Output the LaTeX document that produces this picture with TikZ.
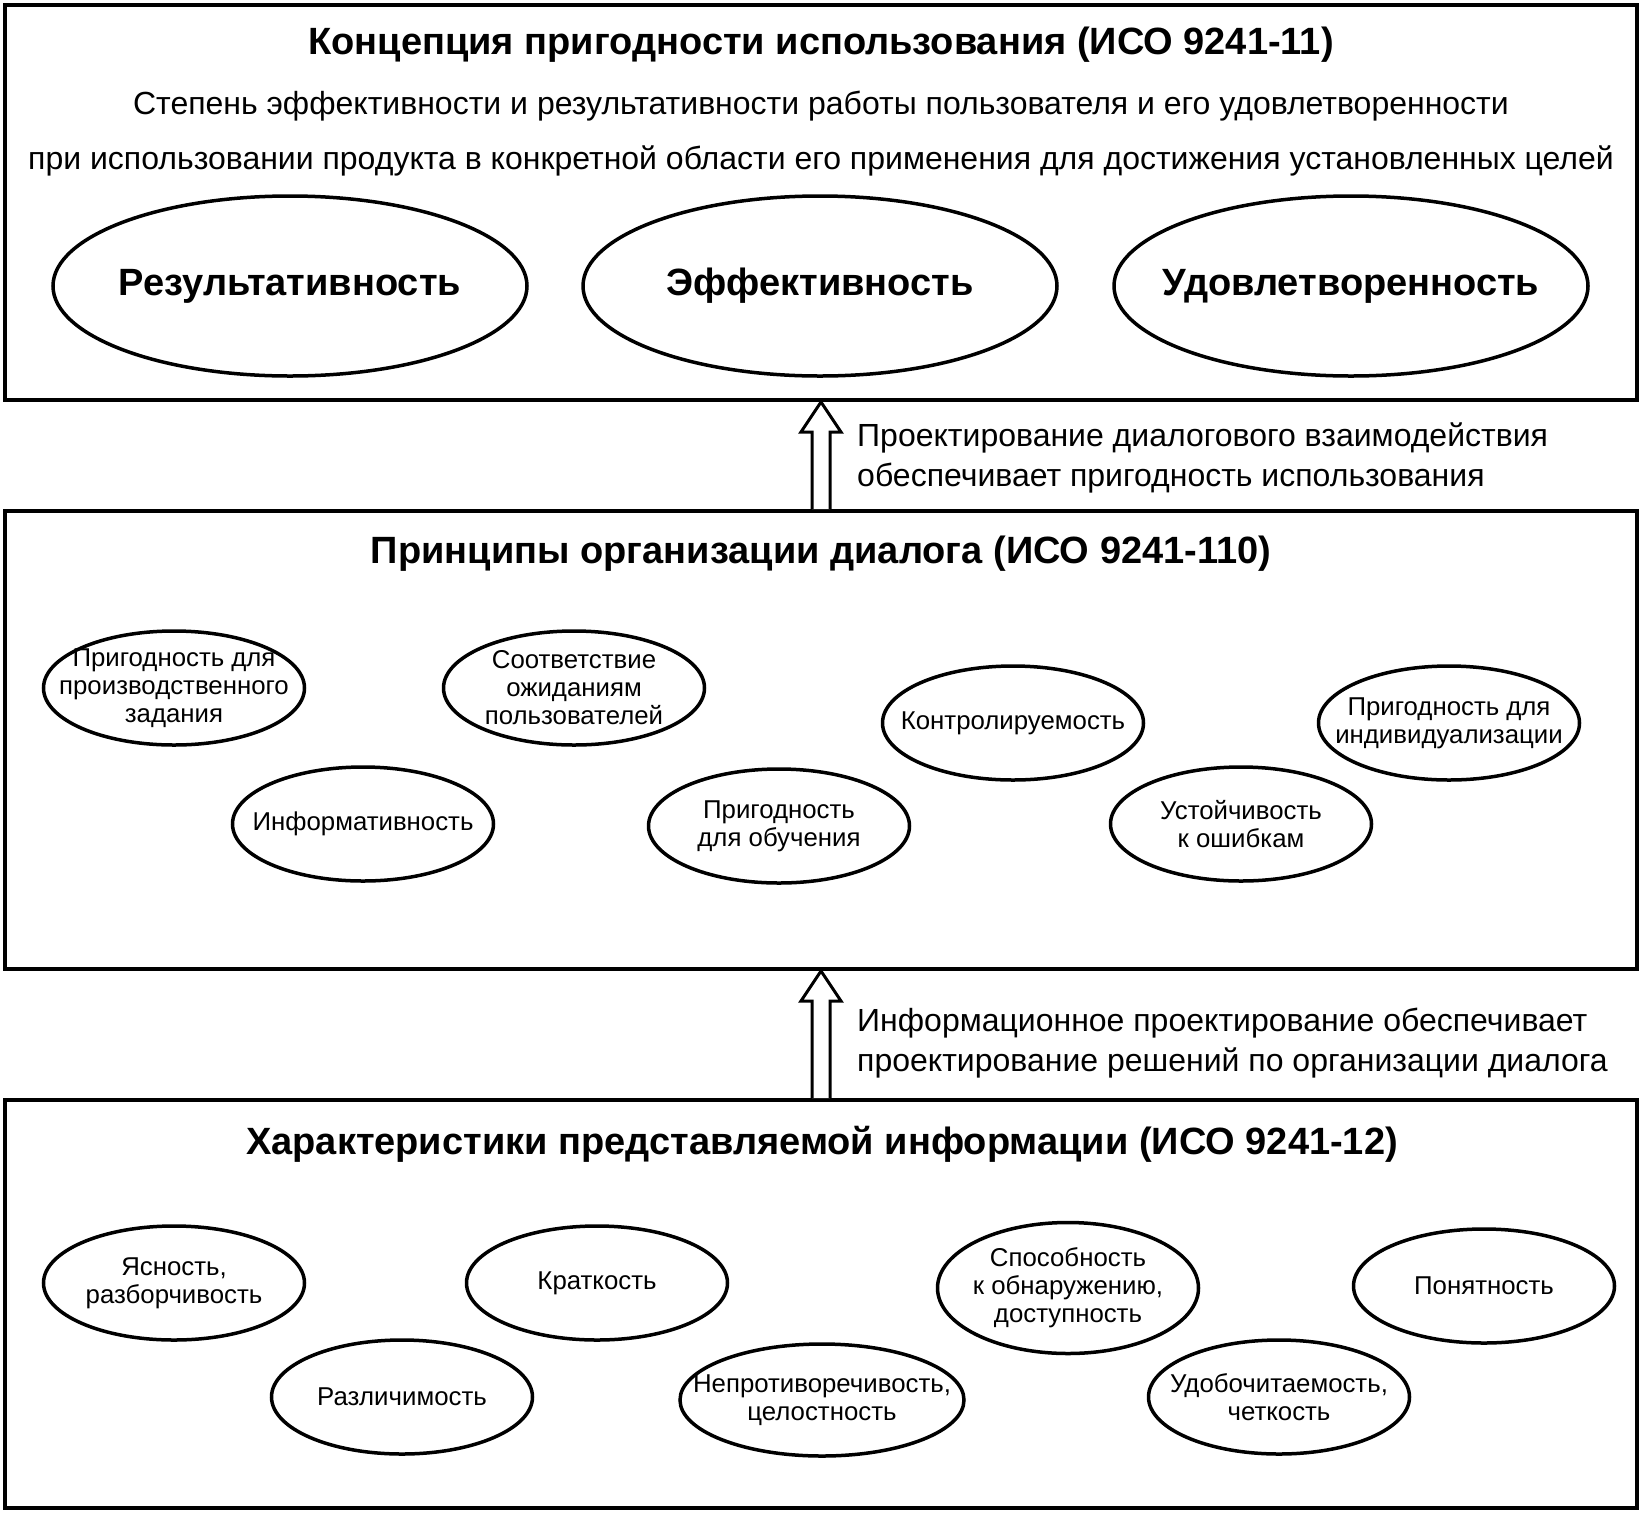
\documentclass[tikz,border=0pt]{standalone}
\usepackage{fontspec}
\setmainfont{Liberation Sans}
\usetikzlibrary{shapes.geometric,calc}
\begin{document}
\begin{tikzpicture}[x=1pt,y=-1pt,
  frame/.style={draw,line width=4pt,rectangle,inner sep=0pt},
  bigell/.style={draw,line width=3.5pt,ellipse,inner xsep=-80pt,inner ysep=-20pt,minimum width=474pt,minimum height=180pt,font=\fontsize{38}{42}\selectfont\bfseries},
  ell/.style={draw,line width=3.5pt,ellipse,inner xsep=-50pt,inner ysep=-20pt,minimum width=261pt,minimum height=114pt,align=center,font=\fontsize{25.8}{28}\selectfont},
  ttl/.style={font=\fontsize{38}{42}\selectfont\bfseries,inner sep=0pt},
  body/.style={font=\fontsize{32}{34}\selectfont,inner sep=0pt},
  lbl/.style={font=\fontsize{32}{40}\selectfont,align=left,inner sep=0pt,anchor=west},
  hollow/.style={draw,line width=3pt,fill=white}
]
\useasboundingbox (0,0) rectangle (1642,1513);
% boxes
\node[frame,minimum width=1632pt,minimum height=395pt] (box1) at (821,202.5) {};
\node[frame,minimum width=1632pt,minimum height=458pt] (box2) at (821,740) {};
\node[frame,minimum width=1632pt,minimum height=408pt] (box3) at (821,1304) {};
% box 1 content
\node[ttl] (t1) at (821,45) {Концепция пригодности использования (ИСО 9241-11)};
\node[body] (d1) at (821,106) {Степень эффективности и результативности работы пользователя и его удовлетворенности};
\node[body] (d2) at (821,161) {при использовании продукта в конкретной области его применения для достижения установленных целей};
\node[bigell] (r1) at (290,286) {Результативность};
\node[bigell] (r2) at (820,286) {Эффективность};
\node[bigell] (r3) at (1351,286) {Удовлетворенность};
% box 2 content
\node[ttl] (t2) at (821,554) {Принципы организации диалога (ИСО 9241-110)};
\node[ell] (e1) at (174,688) {Пригодность для\\производственного\\задания};
\node[ell] (e2) at (574,688) {Соответствие\\ожиданиям\\пользователей};
\node[ell] (e3) at (363,824) {Информативность};
\node[ell] (e4) at (779,826) {Пригодность\\для обучения};
\node[ell] (e5) at (1013,723) {Контролируемость};
\node[ell] (e6) at (1449,723) {Пригодность для\\индивидуализации};
\node[ell] (e7) at (1241,824) {Устойчивость\\к ошибкам};
% box 3 content
\node[ttl] (t3) at (822,1144) {Характеристики представляемой информации (ИСО 9241-12)};
\node[ell] (f1) at (174,1283) {Ясность,\\разборчивость};
\node[ell] (f2) at (597,1283) {Краткость};
\node[ell] (f3) at (402,1397) {Различимость};
\node[ell,minimum width=284pt,minimum height=112pt] (f4) at (822,1400) {Непротиворечивость,\\целостность};
\node[ell,minimum height=131pt] (f5) at (1068,1288) {Способность\\к обнаружению,\\доступность};
\node[ell] (f6) at (1484,1286) {Понятность};
\node[ell] (f7) at (1279,1397) {Удобочитаемость,\\четкость};
% arrows (hollow)
\draw[hollow] ($(box2.north)+(-9,0)$) -- ($(box1.south)+(-9,30)$) -- ($(box1.south)+(-20,30)$) -- (box1.south) -- ($(box1.south)+(20,30)$) -- ($(box1.south)+(9,30)$) -- ($(box2.north)+(9,0)$);
\draw[hollow] ($(box3.north)+(-9,0)$) -- ($(box2.south)+(-9,30)$) -- ($(box2.south)+(-20,30)$) -- (box2.south) -- ($(box2.south)+(20,30)$) -- ($(box2.south)+(9,30)$) -- ($(box3.north)+(9,0)$);
\node[lbl] (a1) at (857,458) {Проектирование диалогового взаимодействия\\обеспечивает пригодность использования};
\node[lbl] (a2) at (857,1043) {Информационное проектирование обеспечивает\\проектирование решений по организации диалога};
\end{tikzpicture}
\end{document}
